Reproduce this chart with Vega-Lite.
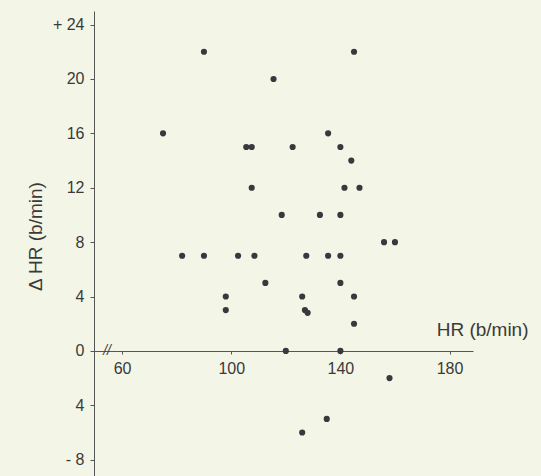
{
  "$schema": "https://vega.github.io/schema/vega-lite/v6.json",
  "autosize": "none",
  "width": 379,
  "height": 465,
  "padding": {"left": 94, "top": 11, "right": 68, "bottom": 0},
  "background": "#f3f5e6",
  "view": {"stroke": null},
  "config": {
    "font": "Liberation Sans",
    "axis": {"labelFont": "Liberation Sans", "titleFont": "Liberation Sans", "labelColor": "#3a3a3a", "titleColor": "#3a3a3a", "domainColor": "#555555", "tickColor": "#555555", "grid": false}
  },
  "datasets": {
    "pts": [
      {"HR": 90, "dHR": 22}, {"HR": 75, "dHR": 16}, {"HR": 105.5, "dHR": 15}, {"HR": 107.5, "dHR": 15},
      {"HR": 107.5, "dHR": 12}, {"HR": 145, "dHR": 22}, {"HR": 115.5, "dHR": 20}, {"HR": 135.5, "dHR": 16},
      {"HR": 122.5, "dHR": 15}, {"HR": 140, "dHR": 15}, {"HR": 144, "dHR": 14}, {"HR": 141.5, "dHR": 12},
      {"HR": 147, "dHR": 12}, {"HR": 118.5, "dHR": 10}, {"HR": 132.5, "dHR": 10}, {"HR": 140, "dHR": 10},
      {"HR": 82, "dHR": 7}, {"HR": 90, "dHR": 7}, {"HR": 102.5, "dHR": 7}, {"HR": 108.5, "dHR": 7},
      {"HR": 112.5, "dHR": 5}, {"HR": 98, "dHR": 4}, {"HR": 98, "dHR": 3}, {"HR": 156, "dHR": 8},
      {"HR": 160, "dHR": 8}, {"HR": 127.5, "dHR": 7}, {"HR": 135.5, "dHR": 7}, {"HR": 140, "dHR": 7},
      {"HR": 140, "dHR": 5}, {"HR": 126, "dHR": 4}, {"HR": 145, "dHR": 4}, {"HR": 127, "dHR": 3},
      {"HR": 128, "dHR": 2.8}, {"HR": 145, "dHR": 2}, {"HR": 120, "dHR": 0}, {"HR": 140, "dHR": 0},
      {"HR": 158, "dHR": -2}, {"HR": 135, "dHR": -5}, {"HR": 126, "dHR": -6}
    ],
    "brk": [{"HR": 54.5, "dHR": 0, "label": "//"}]
  },
  "layer": [
    {
      "data": {"name": "pts"},
      "mark": {"type": "point", "filled": true, "size": 38, "color": "#38383f", "opacity": 1},
      "encoding": {
        "x": {
          "field": "HR", "type": "quantitative",
          "scale": {"domain": [49.7, 188.6], "nice": false, "zero": false},
          "axis": {
            "orient": "bottom", "offset": -125, "values": [60, 100, 140, 180],
            "tickSize": 3, "labelPadding": 6, "labelFontSize": 16,
            "title": "HR (b/min)", "titleFontSize": 19, "titleFontWeight": "normal",
            "titleX": 434, "titleY": -16, "titleAlign": "right", "titleBaseline": "alphabetic", "titleAnchor": null
          }
        },
        "y": {
          "field": "dHR", "type": "quantitative",
          "scale": {"domain": [-9.2, 25], "nice": false, "zero": false},
          "axis": {
            "values": [24, 22, 20, 18, 16, 14, 12, 10, 8, 6, 4, 2, 0, -2, -4, -6, -8],
            "tickSize": {"condition": {"test": "datum.value % 4 !== 0", "value": 2}, "value": 4},
            "labelExpr": "datum.value % 4 !== 0 ? '' : (datum.value === 24 ? '+ 24' : (datum.value === -8 ? '- 8' : '' + abs(datum.value)))",
            "labelPadding": 6, "labelFontSize": 16,
            "title": "Δ HR (b/min)", "titleFontSize": 19, "titleFontWeight": "normal",
            "titleX": -59, "titleY": 225, "titleAngle": -90, "titleAlign": "center", "titleBaseline": "middle"
          }
        }
      }
    },
    {
      "data": {"name": "brk"},
      "mark": {"type": "text", "fontSize": 14, "color": "#444444", "font": "Liberation Sans", "fontStyle": "italic"},
      "encoding": {
        "x": {"field": "HR", "type": "quantitative"},
        "y": {"field": "dHR", "type": "quantitative"},
        "text": {"field": "label"}
      }
    }
  ]
}
